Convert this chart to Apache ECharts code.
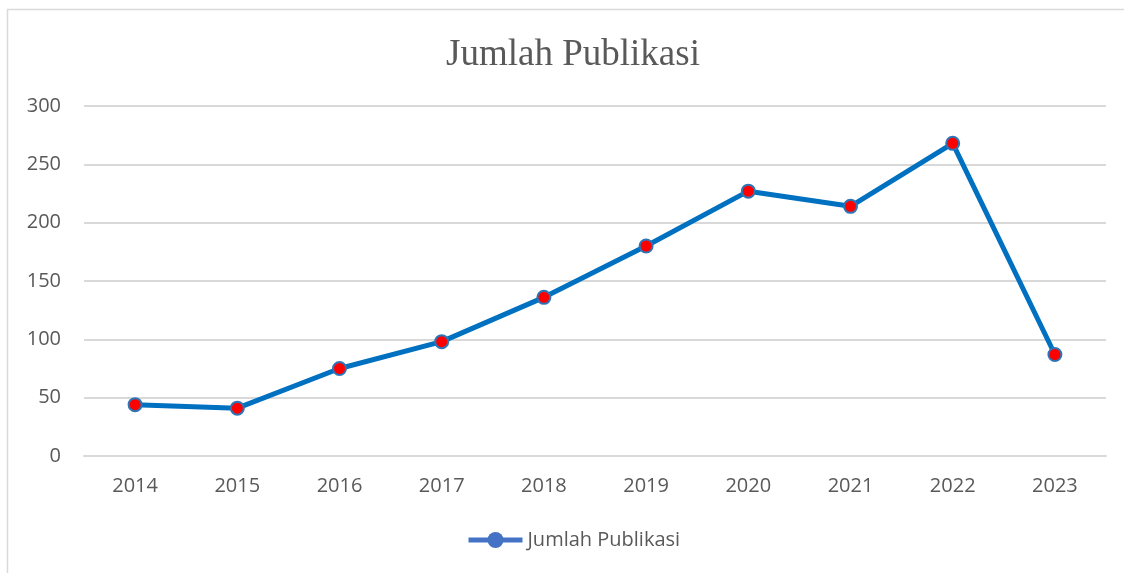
<!DOCTYPE html>
<html>
<head>
<meta charset="utf-8">
<script src="https://cdn.jsdelivr.net/npm/echarts@6/dist/echarts.min.js"></script>
<style>
html,body{margin:0;padding:0;background:#fff;}
#chart{width:1124px;height:573px;}
</style>
</head>
<body>
<div id="chart"></div>
<script>
const titleText = 'Jumlah Publikasi';
const seriesName = 'Jumlah Publikasi';
const categories = ['2014','2015','2016','2017','2018','2019','2020','2021','2022','2023'];
const values = [44, 41, 75, 98, 136, 180, 227, 214, 268, 87];
const yMin = 0, yMax = 300, yInterval = 50;

const FONT = '"Open Sans", "Liberation Sans", sans-serif';
const chart = echarts.init(document.getElementById('chart'), null, {renderer:'canvas'});
chart.setOption({
  animation: false,
  backgroundColor: '#ffffff',
  title: {
    text: titleText,
    left: 568, textAlign: 'center',
    top: 32,
    textStyle: {fontFamily: '"Liberation Serif", "Times New Roman", serif', fontSize: 37, fontWeight: 'normal', color: '#595959'}
  },
  graphic: [{
    type: 'rect', silent: true, z: -1,
    shape: {x: 7.5, y: 9.5, width: 1140, height: 600},
    style: {fill: 'none', stroke: '#d9d9d9', lineWidth: 1.5}
  }],
  legend: {
    left: 466, top: 530, padding: 0,
    itemWidth: 54, itemHeight: 20, itemGap: 10,
    textStyle: {fontFamily: FONT, fontSize: 20, color: '#595959'},
    data: [{
      name: seriesName,
      itemStyle: {color: '#4472C4', borderColor: '#4472C4', borderWidth: 0},
      lineStyle: {color: '#4472C4', width: 5}
    }]
  },
  grid: {left: 84, right: 18, top: 106, bottom: 117, containLabel: false},
  xAxis: {
    type: 'category',
    data: categories,
    boundaryGap: true,
    axisLine: {show: true, lineStyle: {color: '#d9d9d9', width: 2}},
    axisTick: {show: false},
    axisLabel: {margin: 20, fontFamily: FONT, fontSize: 20, color: '#595959'}
  },
  yAxis: {
    type: 'value',
    min: yMin, max: yMax, interval: yInterval,
    axisLine: {show: false},
    axisTick: {show: false},
    splitLine: {lineStyle: {color: '#d9d9d9', width: 2}},
    axisLabel: {margin: 23, fontFamily: FONT, fontSize: 20, color: '#595959'}
  },
  series: [{
    name: seriesName,
    type: 'line',
    data: values,
    symbol: 'circle',
    symbolSize: 13,
    lineStyle: {color: '#0070C0', width: 5},
    itemStyle: {color: '#FF0000', borderColor: '#2E75B6', borderWidth: 2}
  }]
});
</script>
</body>
</html>
